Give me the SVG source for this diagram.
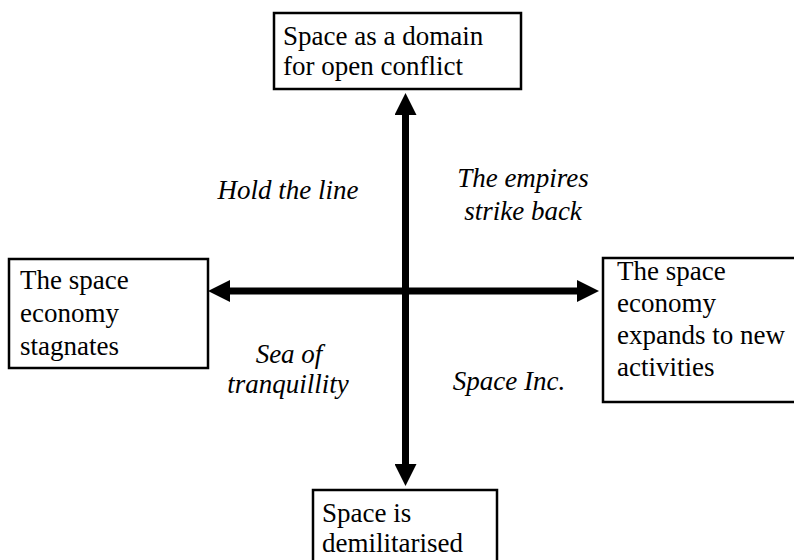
<svg xmlns="http://www.w3.org/2000/svg" width="794" height="560" viewBox="0 0 794 560">
  <style>
    .box { fill: #fff; stroke: #000; stroke-width: 2.5; }
    .t { font-family: 'Liberation Serif', Tinos, 'Times New Roman', Times, 'DejaVu Serif', serif; font-size: 27px; fill: #000; }
    .it { font-family: 'Liberation Serif', Tinos, 'Times New Roman', Times, 'DejaVu Serif', serif; font-size: 27px; font-style: italic; fill: #000; text-anchor: middle; }
    .axis { stroke: #000; stroke-width: 7; fill: none; }
  </style>
  <defs>
    <marker id="ah" markerUnits="userSpaceOnUse" markerWidth="22" markerHeight="22" refX="0" refY="11" orient="auto-start-reverse" viewBox="0 0 22 22">
      <path d="M0,0 L22,11 L0,22 z" fill="#000"/>
    </marker>
  </defs>
  <rect width="794" height="560" fill="#fff"/>
  <g id="connectors">
    <line class="axis" x1="405.5" y1="115" x2="405.5" y2="464" marker-start="url(#ah)" marker-end="url(#ah)"/>
    <line class="axis" x1="230" y1="291" x2="577" y2="291" marker-start="url(#ah)" marker-end="url(#ah)"/>
  </g>
  <g id="node-top">
    <rect class="box" x="274" y="13" width="247" height="76"/>
    <text class="t" x="283" y="45">Space as a domain</text>
    <text class="t" x="283" y="75">for open conflict</text>
  </g>
  <g id="node-left">
    <rect class="box" x="9" y="259" width="199" height="109"/>
    <text class="t" x="20" y="289">The space</text>
    <text class="t" x="20" y="322">economy</text>
    <text class="t" x="20" y="355">stagnates</text>
  </g>
  <g id="node-right">
    <rect class="box" x="603" y="258" width="200" height="144"/>
    <text class="t" x="617" y="280">The space</text>
    <text class="t" x="617" y="312">economy</text>
    <text class="t" x="617" y="344">expands to new</text>
    <text class="t" x="617" y="376">activities</text>
  </g>
  <g id="node-bottom">
    <rect class="box" x="313" y="490" width="184" height="80"/>
    <text class="t" x="322" y="522">Space is</text>
    <text class="t" x="322" y="552">demilitarised</text>
  </g>
  <g id="quadrant-labels">
    <text class="it" x="288" y="199">Hold the line</text>
    <text class="it" x="523" y="187">The empires</text>
    <text class="it" x="523" y="220">strike back</text>
    <text class="it" x="289" y="363">Sea of</text>
    <text class="it" x="288" y="393">tranquillity</text>
    <text class="it" x="509" y="390">Space Inc.</text>
  </g>
</svg>
